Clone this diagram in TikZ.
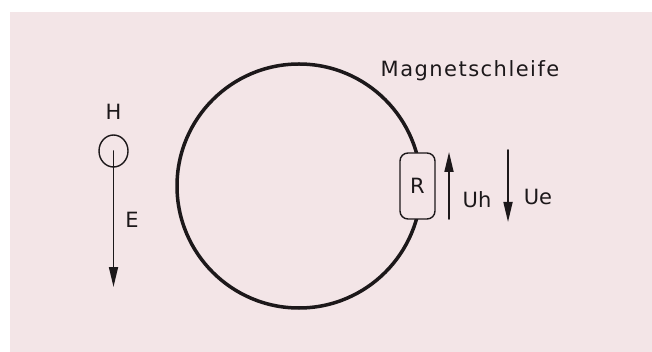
\documentclass[tikz,border=0pt]{standalone}
\usepackage{fontspec}
\setmainfont{DejaVu Sans}
\usetikzlibrary{arrows.meta,positioning,shapes.geometric}
\definecolor{FigureBg}{RGB}{243,229,231}
\definecolor{FigureInk}{RGB}{28,24,26}

\begin{document}
\begin{tikzpicture}[x=1pt,y=-1pt,line cap=round,line join=round,
    every node/.style={font=\fontsize{21}{25}\selectfont,text=FigureInk},
    arr/.style={FigureInk,line width=1.7pt,-{Triangle[length=20pt,width=9pt]}}]
  \useasboundingbox (0,0) rectangle (652,352);
  \fill[FigureBg] (10,12) rectangle (652,352);
  \coordinate (O) at (299,186);
  \draw[FigureInk,line width=3.5pt] (O) circle (122pt);
  \node[FigureInk,draw,ellipse,minimum width=29pt,minimum height=32pt,inner sep=0pt,line width=1.4pt] (H) at (113.5,151) {};
  \node[above=11pt of H] (Hlbl) {H};
  \coordinate (Etip) at (113.5,287); \draw[arr] (H.center) -- (Etip);
  \node (E) at (132,220) {E};
  \node[FigureInk,draw,fill=FigureBg,rounded corners=8pt,minimum width=35pt,minimum height=66pt,line width=1.4pt] (R) at (417.5,186) {R};
  \coordinate (Uh0) at (449,219); \coordinate (Uh1) at (449,152); \draw[arr] (Uh0) -- (Uh1);
  \node (Uh) at (477,200) {Uh};
  \coordinate (Ue0) at (508,150); \coordinate (Ue1) at (508,222); \draw[arr] (Ue0) -- (Ue1);
  \node (Ue) at (538,197) {Ue};
  \node[font=\fontsize{21}{25}\selectfont\addfontfeature{LetterSpace=7}] (loop) at (470,71) {Magnetschleife};
\end{tikzpicture}
\end{document}
